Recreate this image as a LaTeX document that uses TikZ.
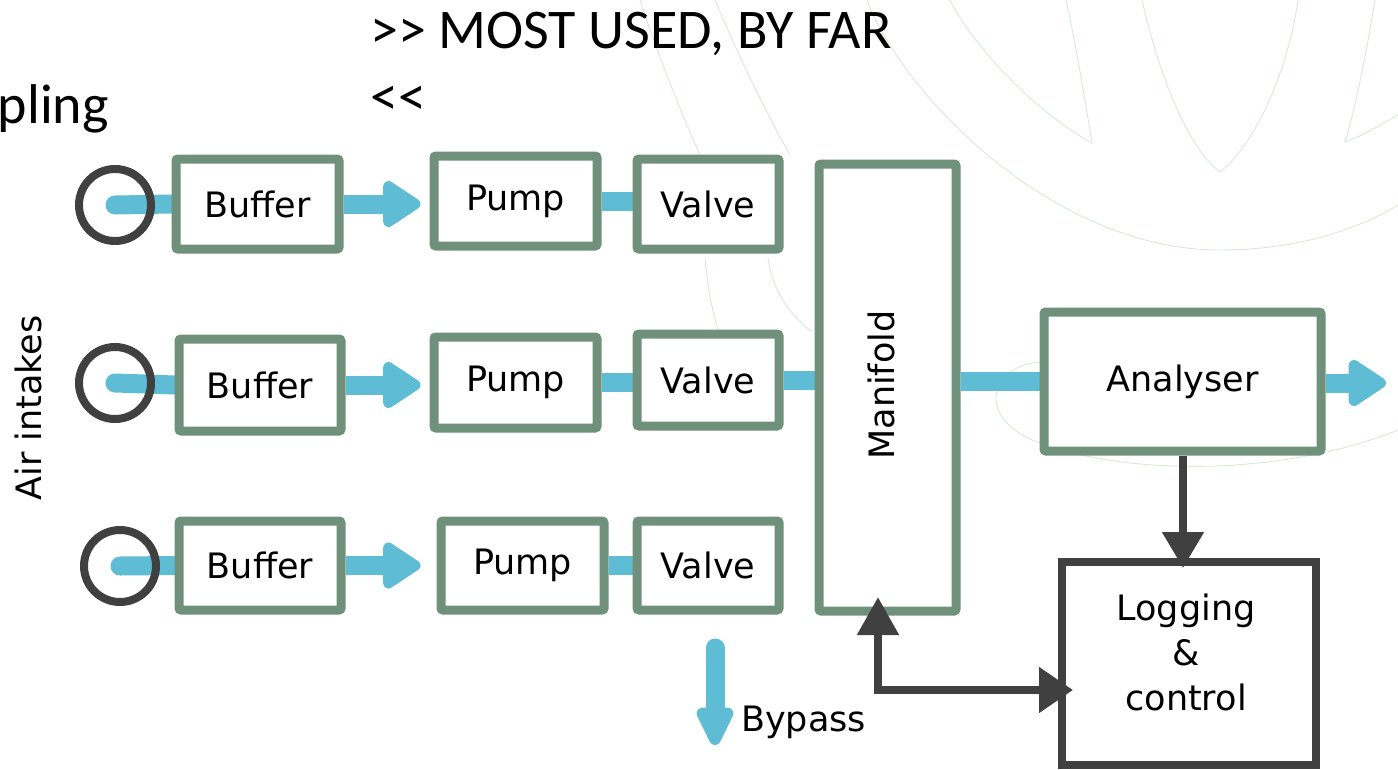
\documentclass[tikz,border=0pt]{standalone}
\usepackage{fontspec}
\setmainfont{DejaVu Sans}
\newfontfamily\titlefont{Carlito}
\usetikzlibrary{arrows.meta}
\definecolor{boxgreen}{RGB}{111,144,122}
\definecolor{flowblue}{RGB}{94,188,212}
\definecolor{darkline}{RGB}{64,64,64}
\definecolor{wmgreen}{RGB}{214,234,214}
\pgfdeclarelayer{wm}\pgfdeclarelayer{bg}\pgfsetlayers{wm,bg,main}
\begin{document}
\begin{tikzpicture}[x=1pt,y=-1pt,
  box/.style={draw=boxgreen, line width=9pt, fill=white, inner sep=0pt, rounded corners=2pt,
    font=\fontsize{35}{42}\selectfont},
  darkbox/.style={draw=darkline, line width=8.5pt, fill=white, inner sep=0pt},
  lbl/.style={inner sep=0pt, font=\fontsize{35}{42}\selectfont},
  title/.style={inner sep=0pt, anchor=base west, font=\titlefont\fontsize{56}{66}\selectfont},
  intake/.style={draw=darkline, line width=8pt, circle, minimum size=72pt, inner sep=0pt},
  flow/.style={draw=flowblue, line width=19pt},
  flowarrow/.style={flow, -{Triangle[length=42pt,width=52pt,round]}},
  ctrl/.style={draw=darkline, line width=8pt},
  ctrlarrow/.style={ctrl, -{Triangle[length=36pt,width=40pt]}},
  wm/.style={draw=wmgreen, line width=0.9pt}
]
\useasboundingbox (0,0) rectangle (1398,769);

% watermark
\begin{pgfonlayer}{wm}
\draw[wm] (867,0) .. controls (900,90) and (1050,250) .. (1220,250) .. controls (1300,250) and (1360,228) .. (1398,205);
\draw[wm] (950,0) .. controls (975,50) and (1040,115) .. (1092,143) .. controls (1085,100) and (1075,40) .. (1066,0);
\draw[wm] (1142,0) .. controls (1160,80) and (1190,150) .. (1220,172) .. controls (1260,140) and (1290,60) .. (1298,0);
\draw[wm] (1375,0) .. controls (1365,60) and (1355,110) .. (1345,142) .. controls (1365,135) and (1385,122) .. (1398,115);
\draw[wm] (640,0) .. controls (660,60) and (680,110) .. (700,155);
\draw[wm] (715,0) .. controls (740,60) and (765,110) .. (790,155);
\draw[wm] (1045,362) .. controls (990,362) and (970,420) .. (1045,445) .. controls (1150,480) and (1300,470) .. (1398,430);
\draw[wm] (705,258) .. controls (708,290) and (712,310) .. (718,330);
\draw[wm] (768,258) .. controls (772,290) and (790,315) .. (812,332);
\end{pgfonlayer}

% titles
\node[title] (t1) at (370,48) {>> MOST USED, BY FAR};
\node[title] (t2) at (370,115) {<<};
\node[title, anchor=base east] (t0) at (109,123) {pling};

% side label
\node[lbl, rotate=90] (air) at (28,408) {Air intakes};

% intakes
\node[intake] (c1) at (115,205) {};
\node[intake] (c2) at (115,383) {};
\node[intake] (c3) at (120,566) {};

% boxes
\node[box, minimum width=163pt, minimum height=90pt] (buf1) at (257.5,204) {Buffer};
\node[box, minimum width=163pt, minimum height=90pt] (pump1) at (515.5,201) {Pump};
\node[box, minimum width=142pt, minimum height=90pt] (valve1) at (708,204) {Valve};
\node[box, minimum width=162pt, minimum height=92pt] (buf2) at (260,385) {Buffer};
\node[box, minimum width=163pt, minimum height=91pt] (pump2) at (515.5,382.5) {Pump};
\node[box, minimum width=142pt, minimum height=92pt] (valve2) at (708,380) {Valve};
\node[box, minimum width=162pt, minimum height=89pt] (buf3) at (260,565.5) {Buffer};
\node[box, minimum width=163pt, minimum height=89pt] (pump3) at (522.5,565.5) {Pump};
\node[box, minimum width=142pt, minimum height=89pt] (valve3) at (708,565.5) {Valve};
\node[box, minimum width=137pt, minimum height=447pt] (manifold) at (887.5,387.5) {};
\node[lbl, rotate=90] (mlabel) at (881,385) {Manifold};
\node[box, minimum width=277pt, minimum height=139pt] (analyser) at (1182.5,381.5) {Analyser};
\node[darkbox, minimum width=254pt, minimum height=203pt] (logging) at (1189,663.5) {};
\node[lbl, align=center, font=\fontsize{35}{45}\selectfont] (loglabel) at (1186,652) {Logging\\\&\\control};

% flow connectors
\begin{pgfonlayer}{bg}
\draw[flow, line cap=round] (c1.center) -- (buf1.west);
\draw[flow, line cap=round] (c2.center) -- (buf2.west);
\draw[flow, line cap=round] (c3.center) -- (buf3.west);
\draw[flowarrow, shorten >=9pt] (buf1.east) -- (pump1.west |- buf1.east);
\draw[flowarrow, shorten >=9pt] (buf2.east) -- (pump2.west |- buf2.east);
\draw[flowarrow, shorten >=16pt] (buf3.east) -- (pump3.west |- buf3.east);
\draw[flow] (pump1.east) -- (valve1.west |- pump1.east);
\draw[flow] (pump2.east) -- (valve2.west |- pump2.east);
\draw[flow] (pump3.east) -- (valve3.west |- pump3.east);
\draw[flow] (valve2.east) -- (manifold.west |- valve2.east);
\draw[flow] (manifold.east |- analyser.west) -- (analyser.west);
\coordinate (outtip) at (1386,383);
\draw[flowarrow] (analyser.east |- outtip) -- (outtip);
\coordinate (bpstart) at (715,648);
\coordinate (bptip) at (715,745);
\draw[flow, line cap=round, -{Triangle[length=46pt,width=40pt,round]}] (bpstart) -- (bptip);
\end{pgfonlayer}
\node[lbl, anchor=west] (bypass) at (741,722) {Bypass};

% control connectors
\draw[ctrlarrow] (analyser.south -| 1183,0) -- (1183,568);
\coordinate (mtip) at (878,597);
\coordinate (ltip) at (1073,690);
\draw[ctrl, {Triangle[length=38pt,width=40pt]}-{Triangle[length=34pt,width=44pt]}] (mtip) |- (ltip);
\end{tikzpicture}
\end{document}
